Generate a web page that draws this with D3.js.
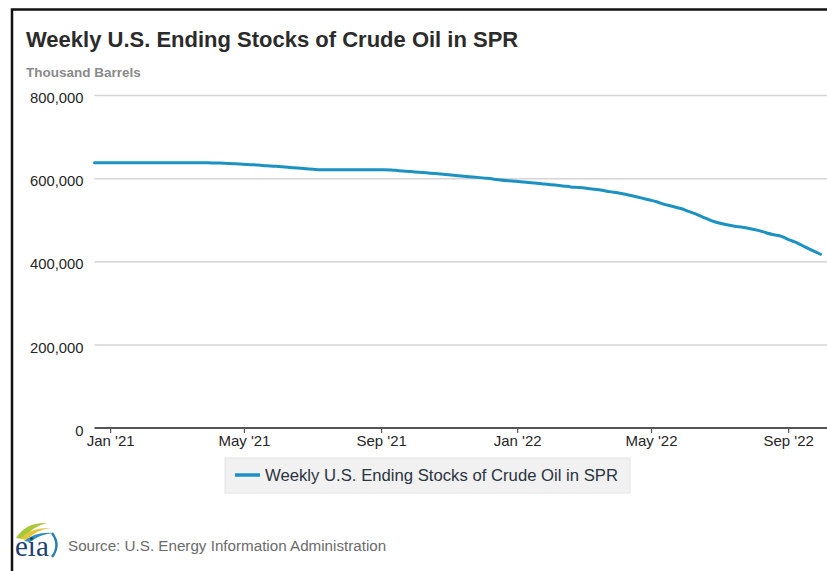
<!DOCTYPE html>
<html>
<head>
<meta charset="utf-8">
<script src="https://cdn.jsdelivr.net/npm/d3@7"></script>
<style>
  html, body { margin: 0; padding: 0; background: #fff; }
  svg { display: block; font-family: "Liberation Sans", Arial, Helvetica, sans-serif; }
</style>
</head>
<body>
<svg id="chart" width="827" height="571"></svg>
<script>
// ---- Data (thousand barrels, weekly) ----
const title = "Weekly U.S. Ending Stocks of Crude Oil in SPR";
const unitLabel = "Thousand Barrels";
const seriesName = "Weekly U.S. Ending Stocks of Crude Oil in SPR";
const sourceText = "Source: U.S. Energy Information Administration";

const weekDates = [
  "2020-12-18","2020-12-25",
  "2021-01-01","2021-01-08","2021-01-15","2021-01-22","2021-01-29",
  "2021-02-05","2021-02-12","2021-02-19","2021-02-26",
  "2021-03-05","2021-03-12","2021-03-19","2021-03-26",
  "2021-04-02","2021-04-09","2021-04-16","2021-04-23","2021-04-30",
  "2021-05-07","2021-05-14","2021-05-21","2021-05-28",
  "2021-06-04","2021-06-11","2021-06-18","2021-06-25",
  "2021-07-02","2021-07-09","2021-07-16","2021-07-23","2021-07-30",
  "2021-08-06","2021-08-13","2021-08-20","2021-08-27",
  "2021-09-03","2021-09-10","2021-09-17","2021-09-24",
  "2021-10-01","2021-10-08","2021-10-15","2021-10-22","2021-10-29",
  "2021-11-05","2021-11-12","2021-11-19","2021-11-26",
  "2021-12-03","2021-12-10","2021-12-17","2021-12-24","2021-12-31",
  "2022-01-07","2022-01-14","2022-01-21","2022-01-28",
  "2022-02-04","2022-02-11","2022-02-18","2022-02-25",
  "2022-03-04","2022-03-11","2022-03-18","2022-03-25",
  "2022-04-01","2022-04-08","2022-04-15","2022-04-22","2022-04-29",
  "2022-05-06","2022-05-13","2022-05-20","2022-05-27",
  "2022-06-03","2022-06-10","2022-06-17","2022-06-24",
  "2022-07-01","2022-07-08","2022-07-15","2022-07-22","2022-07-29",
  "2022-08-05","2022-08-12","2022-08-19","2022-08-26",
  "2022-09-02","2022-09-09","2022-09-16","2022-09-23","2022-09-30"
];
const stocks = [
  638086, 638086,
  638086, 638086, 638086, 638086, 638086,
  638086, 638086, 638086, 638086,
  638086, 638086, 638086, 638000,
  637800, 637400, 636600, 635800, 634600,
  633500, 632500, 631000, 629900,
  628600, 627000, 625300, 623900,
  622600, 621500, 621300, 621300, 621300,
  621300, 621300, 621300, 621300,
  621300, 620900, 619200, 618000,
  616200, 614700, 613000, 611500, 609900,
  608200, 606300, 604500, 603000,
  601200, 599300, 596800, 595000, 593700,
  591800, 590100, 588300, 586300,
  584500, 582400, 580000, 578700,
  576900, 574600, 572000, 568700,
  566100, 562600, 558300, 553600, 549100,
  544500, 538000, 533500, 528600,
  522000, 515000, 507000, 499000,
  493300, 489000, 485500, 483000, 479500,
  475500, 469900, 465000, 461000,
  452500, 445500, 436000, 427000, 418000
];
const yTickValues = [0, 200000, 400000, 600000, 800000];
const xTickDates = ["2021-01-01","2021-05-01","2021-09-01","2022-01-01","2022-05-01","2022-09-01"];

// ---- Layout ----
const svg = d3.select("#chart");
const plot = { left: 94.5, right: 820.5, top: 95.5, bottom: 428 };
const gridRight = 827;

const parse = d3.utcParse("%Y-%m-%d");
const data = weekDates.map((d, i) => ({ date: parse(d), value: stocks[i] }));

const x = d3.scaleUtc()
  .domain(d3.extent(data, d => d.date))
  .range([plot.left, plot.right]);
const y = d3.scaleLinear()
  .domain([0, 800000])
  .range([plot.bottom, plot.top]);

// Frame (left + top border, cropped at right/bottom)
svg.append("rect")
  .attr("x", 12).attr("y", 9.5)
  .attr("width", 900).attr("height", 700)
  .attr("fill", "#fff")
  .attr("stroke", "#111").attr("stroke-width", 2.5);

// Title
svg.append("text")
  .attr("x", 26).attr("y", 47)
  .attr("font-size", 22).attr("font-weight", "bold")
  .attr("fill", "#2b2b2b")
  .text(title);

// Unit label
svg.append("text")
  .attr("x", 26).attr("y", 77)
  .attr("font-size", 13.5).attr("font-weight", "bold")
  .attr("fill", "#8a8a8a")
  .text(unitLabel);

// Gridlines
svg.append("g")
  .selectAll("line")
  .data(yTickValues.filter(v => v > 0))
  .join("line")
  .attr("x1", plot.left).attr("x2", gridRight)
  .attr("y1", d => y(d)).attr("y2", d => y(d))
  .attr("stroke", "#d4d4d4").attr("stroke-width", 1.5);

// Y axis labels
const yAxis = d3.axisLeft(y)
  .tickValues(yTickValues)
  .tickSize(0)
  .tickPadding(0)
  .tickFormat(d3.format(","));
const gy = svg.append("g")
  .attr("transform", `translate(${plot.left - 11},0)`)
  .call(yAxis);
gy.select(".domain").remove();
gy.selectAll("text")
  .attr("font-size", 14.8)
  .attr("font-family", "Liberation Sans, Arial, sans-serif")
  .attr("fill", "#262626")
  .attr("dy", "0.62em")
  .attr("y", -2);

// X axis
const xAxis = d3.axisBottom(x)
  .tickValues(xTickDates.map(parse))
  .tickSize(5)
  .tickPadding(2)
  .tickFormat(d3.utcFormat("%b '%y"));
const gx = svg.append("g")
  .attr("transform", `translate(0,${plot.bottom})`)
  .call(xAxis);
gx.select(".domain").remove();
gx.append("line")
  .attr("x1", plot.left).attr("x2", gridRight)
  .attr("y1", 0).attr("y2", 0)
  .attr("stroke", "#555").attr("stroke-width", 2);
gx.selectAll(".tick line").attr("stroke", "#555").attr("stroke-width", 1.2);
gx.selectAll("text")
  .attr("font-size", 15)
  .attr("font-family", "Liberation Sans, Arial, sans-serif")
  .attr("fill", "#262626");

// Line
const line = d3.line()
  .x(d => x(d.date))
  .y(d => y(d.value))
  .curve(d3.curveMonotoneX);
svg.append("path")
  .datum(data)
  .attr("fill", "none")
  .attr("stroke", "#1b92c2")
  .attr("stroke-width", 3)
  .attr("stroke-linejoin", "round")
  .attr("stroke-linecap", "round")
  .attr("d", line);

// Legend
const lg = svg.append("g").attr("transform", "translate(225,458)");
lg.append("rect")
  .attr("x", 0).attr("y", 0).attr("width", 405).attr("height", 35)
  .attr("fill", "#f1f1f1").attr("stroke", "#e4e4e4").attr("stroke-width", 1);
lg.append("line")
  .attr("x1", 10).attr("x2", 35).attr("y1", 17).attr("y2", 17)
  .attr("stroke", "#1b92c2").attr("stroke-width", 3.5);
lg.append("text")
  .attr("x", 40).attr("y", 23)
  .attr("font-size", 16.7).attr("fill", "#2b3440")
  .text(seriesName);

// EIA logo
const logo = svg.append("g");
logo.append("path")
  .attr("d", "M16,538 Q26,522 47,523 Q33,526 23,539 Z")
  .attr("fill", "#a8c83a");
logo.append("path")
  .attr("d", "M20,539 Q31,527 50,528 Q36,530 27,540 Z")
  .attr("fill", "#e3c63a");
logo.append("path")
  .attr("d", "M24,541 Q36,531 54,533 Q40,534 30,542 Z")
  .attr("fill", "#2f8fc0");
logo.append("path")
  .attr("d", "M52,533 Q61,545 52,557")
  .attr("fill", "none").attr("stroke", "#2a7fb0").attr("stroke-width", 2.4);
logo.append("text")
  .attr("x", 15).attr("y", 556)
  .attr("font-family", "Liberation Serif, DejaVu Serif, serif")
  .attr("font-size", 29).attr("fill", "#1d3f73")
  .text("eia");

// Source
svg.append("text")
  .attr("x", 68).attr("y", 551)
  .attr("font-size", 15.2).attr("fill", "#6b6b6b")
  .text(sourceText);
</script>
</body>
</html>
